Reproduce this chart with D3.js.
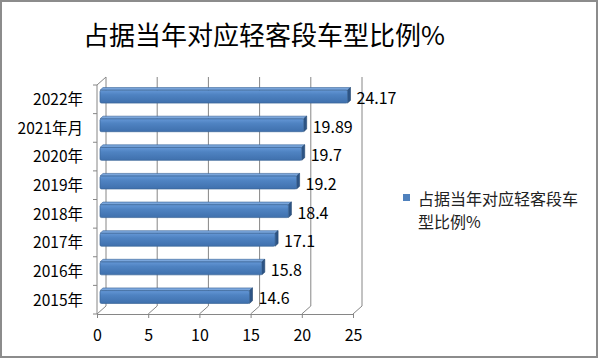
<!DOCTYPE html>
<html>
<head>
<meta charset="utf-8">
<script src="https://cdn.jsdelivr.net/npm/d3@7"></script>
<style>
html,body{margin:0;padding:0;background:#fff;}
svg{display:block;}
text{font-family:"Noto Sans CJK SC","Liberation Sans",sans-serif;}
</style>
</head>
<body>
<svg id="chart" width="600" height="361"></svg>
<script>
const categories = ["2015年","2016年","2017年","2018年","2019年","2020年","2021年月","2022年"];
const values = [14.6,15.8,17.1,18.4,19.2,19.7,19.89,24.17];
const valueLabels = ["14.6","15.8","17.1","18.4","19.2","19.7","19.89","24.17"];
const xTicks = [0,5,10,15,20,25];
const seriesName = "占据当年对应轻客段车型比例%";
const titleText = "占据当年对应轻客段车型比例%";

const svg = d3.select("#chart");
const W = 600, H = 361;
svg.append("rect").attr("x",0).attr("y",0).attr("width",W).attr("height",H).attr("fill","#fff");

// geometry
const frontTop = 85, frontBottom = 314;
const DX = 9, DY = -8;  // depth offset of back wall

const x = d3.scaleLinear().domain([0,25]).range([97,353]);
const y = d3.scaleBand().domain(categories.slice().reverse()).range([frontTop, frontBottom]).padding(0);

const grid = "#868686";
const g = svg.append("g");

// back wall gridlines
xTicks.forEach(t => {
  g.append("line").attr("x1", x(t)+DX).attr("x2", x(t)+DX)
    .attr("y1", frontTop+DY).attr("y2", frontBottom+DY)
    .attr("stroke", grid).attr("stroke-width", 1);
  // floor diagonals
  g.append("line").attr("x1", x(t)).attr("y1", frontBottom)
    .attr("x2", x(t)+DX).attr("y2", frontBottom+DY)
    .attr("stroke", grid).attr("stroke-width", 1);
});
// left wall top diagonal
g.append("line").attr("x1", x(0)).attr("y1", frontTop)
  .attr("x2", x(0)+DX).attr("y2", frontTop+DY)
  .attr("stroke", grid);
// left front axis line
g.append("line").attr("x1", x(0)).attr("x2", x(0))
  .attr("y1", frontTop).attr("y2", frontBottom).attr("stroke", grid);
// category boundary ticks
const bounds = y.domain().map(c => y(c)).concat([frontBottom]);
bounds.forEach(b => {
  g.append("line").attr("x1", x(0)-4).attr("x2", x(0)).attr("y1", b).attr("y2", b)
    .attr("stroke", grid);
});

// x axis (front floor line)
const xAxis = d3.axisBottom(x).tickValues(xTicks).tickSize(4).tickPadding(12).tickFormat(d3.format("d"));
const xa = svg.append("g").attr("transform", `translate(0,${frontBottom})`).call(xAxis);
xa.select(".domain").attr("stroke", grid).attr("d", `M${x(0)},0.5H${x(25)}`);
xa.selectAll(".tick line").attr("stroke", grid);
xa.selectAll(".tick text").attr("font-size", 16).attr("fill", "#000")
  .attr("font-family", "'Liberation Sans','Noto Sans CJK SC',sans-serif");

// y axis labels
const yAxis = d3.axisLeft(y).tickSize(0).tickPadding(14);
const ya = svg.append("g").attr("transform", `translate(${x(0)},0)`).call(yAxis);
ya.select(".domain").remove();
ya.selectAll(".tick text").attr("font-size", 15.5).attr("fill", "#000")
  .attr("dy", "0.38em");

// gradient
const defs = svg.append("defs");
const grad = defs.append("linearGradient").attr("id","barGrad").attr("x1",0).attr("y1",0).attr("x2",0).attr("y2",1);
grad.append("stop").attr("offset","0%").attr("stop-color","#6497d6");
grad.append("stop").attr("offset","35%").attr("stop-color","#4f83c2");
grad.append("stop").attr("offset","100%").attr("stop-color","#3f70ad");

// bars
const fdx = DX/3, fdy = DY/3;       // bar front offset
const bdx = DX/3, bdy = DY/3;       // bar depth
const bh = y.bandwidth()*0.45;
const bars = svg.append("g");
categories.forEach((c, i) => {
  const v = values[i];
  const cy = y(c) + y.bandwidth()/2 + fdy;
  const y0 = cy - bh/2, y1 = cy + bh/2;
  const x0 = x(0) + fdx, x1 = x(v) + fdx;
  // top face
  bars.append("polygon")
    .attr("points", [[x0,y0],[x1,y0],[x1+bdx,y0+bdy],[x0+bdx,y0+bdy]].join(" "))
    .attr("fill", "#7aa6dc").attr("stroke", "#3b6598").attr("stroke-width", 0.6);
  // side face
  bars.append("polygon")
    .attr("points", [[x1,y0],[x1+bdx,y0+bdy],[x1+bdx,y1+bdy],[x1,y1]].join(" "))
    .attr("fill", "#2d5485").attr("stroke", "#24466f").attr("stroke-width", 0.6);
  // front face
  bars.append("rect").attr("x", x0).attr("y", y0).attr("width", x1-x0).attr("height", bh)
    .attr("rx", 1.5)
    .attr("fill", "url(#barGrad)").attr("stroke", "#3b6598").attr("stroke-width", 0.7);
  // value label
  svg.append("text").attr("x", x1 + bdx + 6).attr("y", y(c) + y.bandwidth()/2 - 1)
    .attr("dy", "0.36em").attr("font-size", 16).attr("fill", "#000")
    .attr("font-family", "'Liberation Sans','Noto Sans CJK SC',sans-serif")
    .text(valueLabels[i]);
});

// title
svg.append("text").attr("x", 264).attr("y", 33).attr("text-anchor","middle")
  .attr("dominant-baseline","central").attr("font-size", 26).attr("fill","#000")
  .text(titleText);

// legend
svg.append("rect").attr("x", 403).attr("y", 194).attr("width", 7).attr("height", 7).attr("fill", "#4f81bd");
const lt = svg.append("text").attr("x", 418).attr("y", 198).attr("font-size", 16).attr("fill", "#222")
  .attr("dominant-baseline","central");
lt.append("tspan").attr("x", 418).attr("y", 198).text(seriesName.slice(0,10));
lt.append("tspan").attr("x", 418).attr("y", 221).text(seriesName.slice(10));

// border
svg.append("rect").attr("x", 1).attr("y", 1).attr("width", 596).attr("height", 356)
  .attr("fill","none").attr("stroke","#8c8c8c").attr("stroke-width", 2);
</script>
</body>
</html>
